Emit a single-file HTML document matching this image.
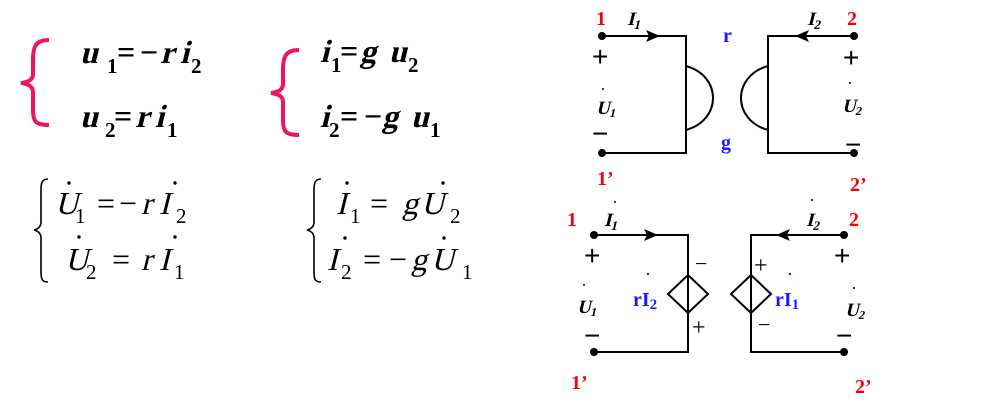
<!DOCTYPE html>
<html><head><meta charset="utf-8"><style>
html,body{margin:0;padding:0;background:#fff;}
svg{display:block}
text{font-family:"Liberation Serif","DejaVu Serif",serif;font-style:normal}
.b{font-weight:bold;font-size:32px}
.bs{font-weight:bold;font-size:21px}
.m{font-size:32px}
.ms{font-size:21px}
.red{fill:#f00;font-weight:bold;font-size:20px}
.blue{fill:#1a1aff;font-weight:bold;font-size:20px}
.lab{font-weight:bold;font-size:19px}
.pm{font-family:"Liberation Sans",sans-serif;font-size:28px}
</style></head><body>
<svg width="991" height="415" viewBox="0 0 991 415" xmlns="http://www.w3.org/2000/svg">
<!-- pink braces -->
<path d="M49,40 C36,40 33,46 33,60 L33,74 C33,80 28,82 21,83 C28,84 33,86 33,92 L33,110 C33,122 36,125 49,125" fill="none" stroke="#f0135f" stroke-width="4"/>
<path d="M299,50 C286,50 283,56 283,70 L283,84 C283,90 278,92 271,93 C278,94 283,96 283,102 L283,120 C283,132 286,135 299,135" fill="none" stroke="#f0135f" stroke-width="4"/>

<!-- top equations -->
<text class="b" transform="translate(80,63) skewX(-14)">u</text>
<text class="bs" x="107" y="73">1</text>
<text class="b" x="117" y="63">=</text>
<text class="b" x="140" y="63">−</text>
<text class="b" transform="translate(160,63) skewX(-14)">r</text>
<text class="b" transform="translate(180,63) skewX(-14)">i</text>
<text class="bs" x="191" y="73">2</text>

<text class="b" transform="translate(80,127) skewX(-14)">u</text>
<text class="bs" x="105" y="137">2</text>
<text class="b" x="114" y="127">=</text>
<text class="b" transform="translate(135,127) skewX(-14)">r</text>
<text class="b" transform="translate(155,127) skewX(-14)">i</text>
<text class="bs" x="167" y="137">1</text>

<text class="b" transform="translate(320,62) skewX(-14)">i</text>
<text class="bs" x="331" y="72">1</text>
<text class="b" x="340" y="62">=</text>
<text class="b" transform="translate(360,62) skewX(-14)">g</text>
<text class="b" transform="translate(389,62) skewX(-14)">u</text>
<text class="bs" x="408" y="72">2</text>

<text class="b" transform="translate(320,127) skewX(-14)">i</text>
<text class="bs" x="329" y="137">2</text>
<text class="b" x="340" y="127">=</text>
<text class="b" x="364" y="127">−</text>
<text class="b" transform="translate(382,127) skewX(-14)">g</text>
<text class="b" transform="translate(411,127) skewX(-14)">u</text>
<text class="bs" x="430" y="137">1</text>

<!-- black braces -->
<path d="M48,179 C42,179 41,183 41,190 L41,222 C41,227 38,229 34,230 C38,231 41,233 41,238 L41,272 C41,279 42,282 48,282" fill="none" stroke="#000" stroke-width="1.6"/>
<path d="M321,179 C315,179 314,183 314,190 L314,222 C314,227 311,229 307,230 C311,231 314,233 314,238 L314,272 C314,279 315,282 321,282" fill="none" stroke="#000" stroke-width="1.6"/>

<!-- lower equations -->
<text class="m" transform="translate(55,214) skewX(-14)">U</text>
<text class="ms" x="75" y="223">1</text>
<text class="m" x="97" y="214">=</text>
<text class="m" x="119" y="214">−</text>
<text class="m" transform="translate(141,214) skewX(-14)">r</text>
<text class="m" transform="translate(159,214) skewX(-14)">I</text>
<text class="ms" x="176" y="223">2</text>

<text class="m" transform="translate(65,270) skewX(-14)">U</text>
<text class="ms" x="86" y="279">2</text>
<text class="m" x="112" y="270">=</text>
<text class="m" transform="translate(141,270) skewX(-14)">r</text>
<text class="m" transform="translate(159,270) skewX(-14)">I</text>
<text class="ms" x="174" y="279">1</text>

<text class="m" transform="translate(336,214) skewX(-14)">I</text>
<text class="ms" x="350" y="223">1</text>
<text class="m" x="370" y="214">=</text>
<text class="m" transform="translate(402,214) skewX(-14)">g</text>
<text class="m" transform="translate(421,214) skewX(-14)">U</text>
<text class="ms" x="450" y="223">2</text>

<text class="m" transform="translate(327,270) skewX(-14)">I</text>
<text class="ms" x="341" y="279">2</text>
<text class="m" x="363" y="270">=</text>
<text class="m" x="389" y="270">−</text>
<text class="m" transform="translate(411,270) skewX(-14)">g</text>
<text class="m" transform="translate(431,270) skewX(-14)">U</text>
<text class="ms" x="462" y="279">1</text>

<g fill="#000">
<circle cx="69" cy="183" r="1.7"/><circle cx="175" cy="183" r="1.7"/>
<circle cx="79" cy="237" r="1.7"/><circle cx="175" cy="237" r="1.7"/>
<circle cx="347" cy="183" r="1.7"/><circle cx="443" cy="183" r="1.7"/>
<circle cx="345" cy="238" r="1.7"/><circle cx="444" cy="238" r="1.7"/>
</g>

<!-- top circuit -->
<g stroke="#000" stroke-width="2" fill="none">
<polyline points="602,36 686,36 686,153 602,153"/>
<polyline points="854,36 768,36 768,153 854,153"/>
<path d="M686,66 C722,76 722,120 686,130"/>
<path d="M768,66 C732,76 732,120 768,130"/>
</g>
<g fill="#000">
<circle cx="602" cy="36" r="4"/><circle cx="602" cy="153" r="4"/>
<circle cx="854" cy="36" r="4"/><circle cx="854" cy="153" r="4"/>
<polygon points="660,36 646,30 649,36 646,42"/>
<polygon points="795,36 809,30 806,36 809,42"/>
</g>
<text class="red" x="596" y="25">1</text>
<text class="lab" transform="translate(627,25) skewX(-14)">I<tspan font-size="13" dy="4">1</tspan></text>
<text class="blue" x="723" y="42">r</text>
<text class="blue" x="721" y="149">g</text>
<text class="lab" transform="translate(807,25) skewX(-14)">I<tspan font-size="13" dy="4">2</tspan></text>
<text class="red" x="847" y="25">2</text>
<text class="red" x="597" y="185">1’</text>
<text class="red" x="850" y="191">2’</text>
<text class="pm" x="592" y="66">+</text>
<text class="pm" x="592" y="143">−</text>
<text class="pm" x="843" y="67">+</text>
<text class="pm" x="845" y="154">−</text>
<text class="lab" transform="translate(596,114) skewX(-14)">U<tspan font-size="12" dy="3">1</tspan></text>
<text class="lab" transform="translate(842,112) skewX(-14)">U<tspan font-size="12" dy="3">2</tspan></text>
<circle cx="603" cy="89" r="1" fill="#000"/><circle cx="850" cy="83" r="1" fill="#000"/>

<!-- bottom circuit -->
<g stroke="#000" stroke-width="2" fill="none">
<polyline points="594,235 688,235 688,352 594,352"/>
<polyline points="844,235 751,235 751,352 844,352"/>
<polygon points="688,275 708,294 688,313 668,294"/>
<polygon points="751,275 771,294 751,313 731,294"/>
</g>
<g fill="#000">
<circle cx="594" cy="235" r="4"/><circle cx="594" cy="352" r="4"/>
<circle cx="844" cy="235" r="4"/><circle cx="844" cy="352" r="4"/>
<polygon points="658,235 644,229 647,235 644,241"/>
<polygon points="776,235 790,229 787,235 790,241"/>
</g>
<text class="red" x="567" y="226">1</text>
<text class="lab" transform="translate(604,226) skewX(-14)">I<tspan font-size="13" dy="4">1</tspan></text>
<circle cx="615" cy="202" r="1" fill="#000"/>
<text class="lab" transform="translate(806,226) skewX(-14)">I<tspan font-size="13" dy="4">2</tspan></text>
<circle cx="812" cy="200" r="1" fill="#000"/>
<text class="red" x="849" y="226">2</text>
<text class="red" x="571" y="389">1’</text>
<text class="red" x="855" y="393">2’</text>
<text class="pm" x="584" y="265">+</text>
<text class="pm" x="584" y="345">−</text>
<text class="pm" x="834" y="265">+</text>
<text class="pm" x="836" y="345">−</text>
<text class="lab" transform="translate(577,313) skewX(-14)">U<tspan font-size="12" dy="3">1</tspan></text>
<circle cx="584" cy="285" r="1" fill="#000"/>
<text class="lab" transform="translate(845,316) skewX(-14)">U<tspan font-size="12" dy="3">2</tspan></text>
<circle cx="854" cy="288" r="1" fill="#000"/>
<text x="695" y="271" font-family="Liberation Sans,sans-serif" font-size="22">−</text>
<text x="692" y="335" font-family="Liberation Sans,sans-serif" font-size="24">+</text>
<text x="754" y="273" font-family="Liberation Sans,sans-serif" font-size="24">+</text>
<text x="758" y="332" font-family="Liberation Sans,sans-serif" font-size="22">−</text>
<text class="blue" x="633" y="306" font-size="21">rI<tspan font-size="15" dy="3">2</tspan></text>
<circle cx="648" cy="274" r="1.2" fill="#1a1aff"/>
<text class="blue" x="775" y="306" font-size="21">rI<tspan font-size="15" dy="3">1</tspan></text>
<circle cx="790" cy="274" r="1.2" fill="#1a1aff"/>
</svg>
</body></html>
